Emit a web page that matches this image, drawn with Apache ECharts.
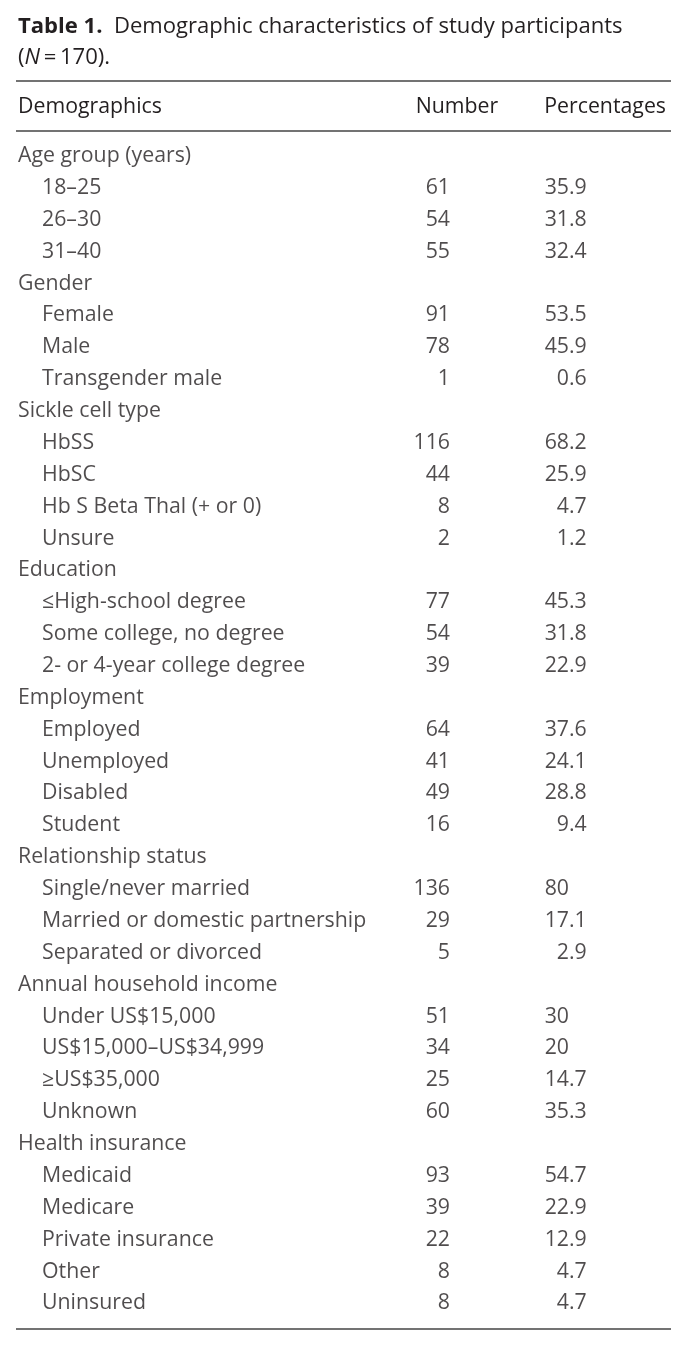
<!DOCTYPE html>
<html>
<head>
<meta charset="utf-8">
<script src="https://cdn.jsdelivr.net/npm/echarts@6/dist/echarts.min.js"></script>
<style>
html,body{margin:0;padding:0;background:#fff;}
#c{width:688px;height:1347px;}
</style>
</head>
<body>
<div id="c"></div>
<script>
// ---- data ----
const groups = ['Age group (years)', 'Gender', 'Sickle cell type', 'Education', 'Employment',
  'Relationship status', 'Annual household income', 'Health insurance'];
const items = [
  ['18–25', '26–30', '31–40'],
  ['Female', 'Male', 'Transgender male'],
  ['HbSS', 'HbSC', 'Hb S Beta Thal (+ or 0)', 'Unsure'],
  ['≤High-school degree', 'Some college, no degree', '2- or 4-year college degree'],
  ['Employed', 'Unemployed', 'Disabled', 'Student'],
  ['Single/never married', 'Married or domestic partnership', 'Separated or divorced'],
  ['Under US$15,000', 'US$15,000–US$34,999', '≥US$35,000', 'Unknown'],
  ['Medicaid', 'Medicare', 'Private insurance', 'Other', 'Uninsured']
];
const numbers = [
  [61, 54, 55],
  [91, 78, 1],
  [116, 44, 8, 2],
  [77, 54, 39],
  [64, 41, 49, 16],
  [136, 29, 5],
  [51, 34, 25, 60],
  [93, 39, 22, 8, 8]
];
const percentages = [
  ['35.9', '31.8', '32.4'],
  ['53.5', '45.9', '0.6'],
  ['68.2', '25.9', '4.7', '1.2'],
  ['45.3', '31.8', '22.9'],
  ['37.6', '24.1', '28.8', '9.4'],
  ['80', '17.1', '2.9'],
  ['30', '20', '14.7', '35.3'],
  ['54.7', '22.9', '12.9', '4.7', '4.7']
];
const headers = ['Demographics', 'Number', 'Percentages'];
const titleBold = 'Table 1.';
const titleText = 'Demographic characteristics of study participants';

// ---- layout ----
const FONT = '"Open Sans", Lato, sans-serif';
const COLOR = '#231f20';
const X_GROUP = 18, X_ITEM = 42, X_NUM = 450, X_DEC = 569;

// fit font size so the header word matches the reference width
const mctx = document.createElement('canvas').getContext('2d');
function w(txt, size, weight) { mctx.font = (weight || 'normal') + ' ' + size + 'px ' + FONT; return mctx.measureText(txt).width; }
let FS = 144 / w(headers[0], 100) * 100;
FS = Math.max(19, Math.min(23, FS));
const titleW = w(titleBold, 100, 'bold') + w('  ' + titleText, 100);
let TFS = 605 / titleW * 100;
TFS = Math.max(19, Math.min(23, TFS));

const rows = [];
groups.forEach((g, gi) => {
  rows.push({label: g, indent: false});
  items[gi].forEach((it, k) => rows.push({label: it, indent: true, num: numbers[gi][k], pct: percentages[gi][k]}));
});
const rowIdx = rows.map((r, i) => String(i));

const labelData = [], numData = [], intData = [], fracData = [];
rows.forEach((r, i) => {
  labelData.push({value: [r.indent ? X_ITEM : X_GROUP, i], txt: r.label});
  if (r.num !== undefined) {
    numData.push({value: [X_NUM, i], txt: String(r.num)});
    const p = r.pct.split('.');
    intData.push({value: [X_DEC, i], txt: p[0]});
    if (p.length > 1) fracData.push({value: [X_DEC, i], txt: '.' + p[1]});
  }
});

function textSeries(data, align) {
  return {
    type: 'scatter', symbolSize: 0, silent: true, data: data,
    label: {
      show: true, position: 'inside', align: align, verticalAlign: 'middle',
      fontFamily: FONT, fontSize: FS, color: COLOR,
      formatter: p => p.data.txt
    }
  };
}

const chart = echarts.init(document.getElementById('c'), null, {renderer: 'canvas'});
const ROW_H = 31.87;
const TOP = 156 - ROW_H / 2;
const LH = 31;
chart.setOption({
  animation: false,
  backgroundColor: '#fff',
  title: {
    left: 18, top: 11, padding: 0,
    text: '{b|' + titleBold + '}  ' + titleText + '\n({i|N}\u2009=\u2009170).',
    textStyle: {
      fontFamily: FONT, fontSize: TFS, color: COLOR, fontWeight: 'normal', lineHeight: LH,
      rich: {
        b: {fontFamily: FONT, fontSize: TFS, fontWeight: 'bold', color: COLOR, lineHeight: LH},
        i: {fontFamily: FONT, fontSize: TFS, fontStyle: 'italic', color: COLOR, lineHeight: LH}
      }
    }
  },
  grid: {left: 0, right: 0, top: TOP, height: ROW_H * rows.length},
  xAxis: {type: 'value', min: 0, max: 688, show: false},
  yAxis: {type: 'category', data: rowIdx, inverse: true, show: false},
  series: [
    textSeries(labelData, 'left'),
    textSeries(numData, 'right'),
    textSeries(intData, 'right'),
    textSeries(fracData, 'left')
  ],
  graphic: [
    {type: 'line', shape: {x1: 16, y1: 81, x2: 671, y2: 81}, style: {stroke: '#444', lineWidth: 1.5}},
    {type: 'line', shape: {x1: 16, y1: 131, x2: 671, y2: 131}, style: {stroke: '#444', lineWidth: 1.5}},
    {type: 'line', shape: {x1: 16, y1: 1329, x2: 671, y2: 1329}, style: {stroke: '#444', lineWidth: 1.5}},
    {type: 'text', x: 18, y: 107, style: {text: headers[0], font: FS + 'px ' + FONT, fill: COLOR, textAlign: 'left', textVerticalAlign: 'middle'}},
    {type: 'text', x: 457, y: 107, style: {text: headers[1], font: FS + 'px ' + FONT, fill: COLOR, textAlign: 'center', textVerticalAlign: 'middle'}},
    {type: 'text', x: 666, y: 107, style: {text: headers[2], font: FS + 'px ' + FONT, fill: COLOR, textAlign: 'right', textVerticalAlign: 'middle'}}
  ]
});
</script>
</body>
</html>
